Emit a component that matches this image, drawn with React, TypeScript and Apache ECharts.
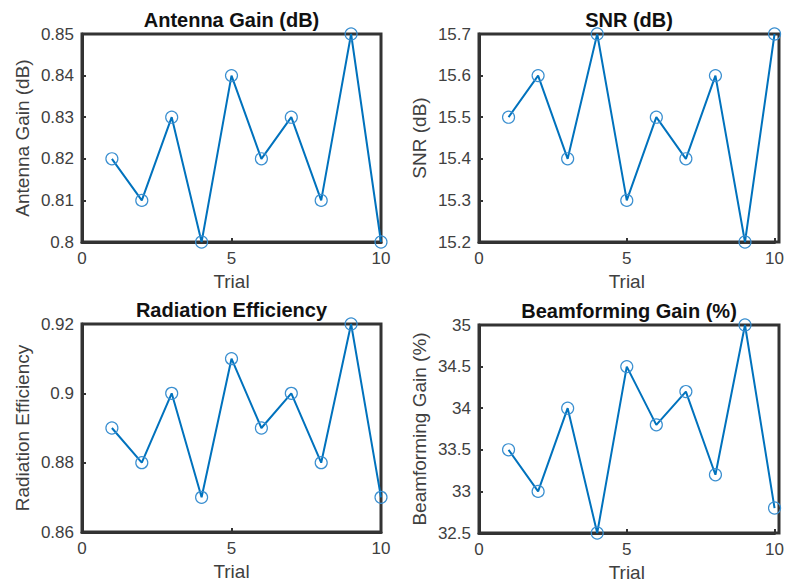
import React, { useEffect, useRef } from "react";
import * as echarts from "echarts";

const trials = [1, 2, 3, 4, 5, 6, 7, 8, 9, 10];
const antennaGain = [0.82, 0.81, 0.83, 0.8, 0.84, 0.82, 0.83, 0.81, 0.85, 0.8];
const snr = [15.5, 15.6, 15.4, 15.7, 15.3, 15.5, 15.4, 15.6, 15.2, 15.7];
const radiationEfficiency = [0.89, 0.88, 0.9, 0.87, 0.91, 0.89, 0.9, 0.88, 0.92, 0.87];
const beamformingGain = [33.5, 33.0, 34.0, 32.5, 34.5, 33.8, 34.2, 33.2, 35.0, 32.8];

const titles = ["Antenna Gain (dB)", "SNR (dB)", "Radiation Efficiency", "Beamforming Gain (%)"];
const yNames = ["Antenna Gain (dB)", "SNR (dB)", "Radiation Efficiency", "Beamforming Gain (%)"];
const yRanges = [
  [0.8, 0.85, 0.01],
  [15.2, 15.7, 0.1],
  [0.86, 0.92, 0.02],
  [32.5, 35, 0.5],
];
const seriesValues = [antennaGain, snr, radiationEfficiency, beamformingGain];

const FONT = "'Liberation Sans', Arial, sans-serif";
const BLUE = "#0072BD";
const AXIS = "#333";
const TEXT = "#404040";

const grids = [
  { left: 82, top: 34, width: 299, height: 208 },
  { left: 479, top: 34, width: 300, height: 208 },
  { left: 82, top: 324, width: 299, height: 208 },
  { left: 479, top: 325, width: 300, height: 208 },
];

export default function App() {
  const ref = useRef<HTMLDivElement>(null);
  useEffect(() => {
    if (!ref.current) return;
    const chart = echarts.init(ref.current, null, { renderer: "svg" });
    const xAxis: any[] = [];
    const yAxis: any[] = [];
    const series: any[] = [];
    const title: any[] = [];
    const graphic: any[] = [];
    grids.forEach((g, i) => {
      const [ymin, ymax, yint] = yRanges[i];
      graphic.push({
        type: "rect",
        x: g.left,
        y: g.top,
        shape: { x: 0, y: 0, width: g.width, height: g.height },
        style: { fill: "none", stroke: AXIS, lineWidth: 3 },
        z: 100,
        silent: true,
      });
      title.push({
        text: titles[i],
        left: g.left + g.width / 2,
        top: g.top - 24,
        padding: 0,
        textAlign: "center",
        textStyle: { fontFamily: FONT, fontSize: 20, fontWeight: "bold", color: "#111" },
      });
      xAxis.push({
        type: "value",
        gridIndex: i,
        min: 0,
        max: 10,
        interval: 5,
        name: "Trial",
        nameLocation: "middle",
        nameGap: 30,
        nameTextStyle: { fontFamily: FONT, fontSize: 19, color: TEXT },
        axisLine: { show: true, onZero: false, lineStyle: { color: AXIS, width: 3 } },
        axisTick: { show: true, inside: true, length: 4, lineStyle: { color: AXIS, width: 2 } },
        axisLabel: { fontFamily: FONT, fontSize: 17, color: TEXT, margin: 8 },
        splitLine: { show: false },
      });
      yAxis.push({
        type: "value",
        gridIndex: i,
        min: ymin,
        max: ymax,
        interval: yint,
        name: yNames[i],
        nameLocation: "middle",
        nameRotate: 90,
        nameGap: 50,
        nameTextStyle: { fontFamily: FONT, fontSize: 19, color: TEXT },
        axisLine: { show: true, onZero: false, lineStyle: { color: AXIS, width: 3 } },
        axisTick: { show: true, inside: true, length: 4, lineStyle: { color: AXIS, width: 2 } },
        axisLabel: { fontFamily: FONT, fontSize: 17, color: TEXT, margin: 8 },
        splitLine: { show: false },
      });
      series.push({
        type: "line",
        xAxisIndex: i,
        yAxisIndex: i,
        data: trials.map((t, k) => [t, seriesValues[i][k]]),
        symbol: "circle",
        symbolSize: 12,
        clip: false,
        z: 120,
        lineStyle: { color: BLUE, width: 2 },
        itemStyle: { color: "rgba(0,0,0,0)", borderColor: "#3a8fd0", borderWidth: 1.2 },
      });
    });
    chart.setOption({
      animation: false,
      title,
      graphic,
      grid: grids.map((g) => ({ ...g })),
      xAxis,
      yAxis,
      series,
    });
    return () => chart.dispose();
  }, []);
  return <div ref={ref} style={{ position: "absolute", left: 0, top: 0, width: 787, height: 584, background: "#fff" }} />;
}
